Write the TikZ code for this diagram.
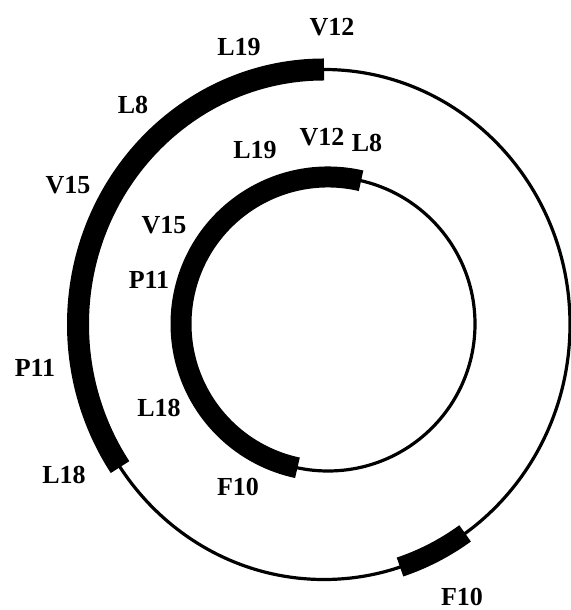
\documentclass[tikz,border=0pt]{standalone}
\usepackage{fontspec}
\setmainfont{Liberation Serif}
\begin{document}
\begin{tikzpicture}[x=1pt,y=1pt,
  thinring/.style={line width=3.2pt},
  thickband/.style={line width=22pt},
  lab/.style={inner sep=0pt,font=\fontsize{26}{26}\selectfont\bfseries}]
\useasboundingbox (0,0) rectangle (570,610);
\coordinate (oc) at (324,285.5);
\coordinate (ic) at (328,286);
% outer ring
\draw[thinring] (oc) ellipse [x radius=246pt, y radius=255pt];
\draw[thickband,shift={(oc)}] (90:246pt and 255pt) arc[start angle=90, end angle=214, x radius=246pt, y radius=255pt];
\draw[line width=20pt,shift={(oc)}] (-72:246pt and 255pt) arc[start angle=-72, end angle=-55, x radius=246pt, y radius=255pt];
% inner ring
\draw[thinring] (ic) circle [radius=147pt];
\draw[line width=21pt,shift={(ic)}] (77:147pt) arc[start angle=77, end angle=258, radius=147pt];
% outer labels
\node[lab] (oV12) at (332,583) {V12};
\node[lab] (oL19) at (239,563) {L19};
\node[lab] (oL8) at (133,505) {L8};
\node[lab] (oV15) at (68,425) {V15};
\node[lab] (oP11) at (35,242) {P11};
\node[lab] (oL18) at (64,135) {L18};
\node[lab] (oF10) at (462,13) {F10};
% inner labels
\node[lab] (iV12) at (322,473) {V12};
\node[lab] (iL8) at (367,467) {L8};
\node[lab] (iL19) at (255,460) {L19};
\node[lab] (iV15) at (164,385) {V15};
\node[lab] (iP11) at (149,330) {P11};
\node[lab] (iL18) at (159,202) {L18};
\node[lab] (iF10) at (238,123) {F10};
\end{tikzpicture}
\end{document}
